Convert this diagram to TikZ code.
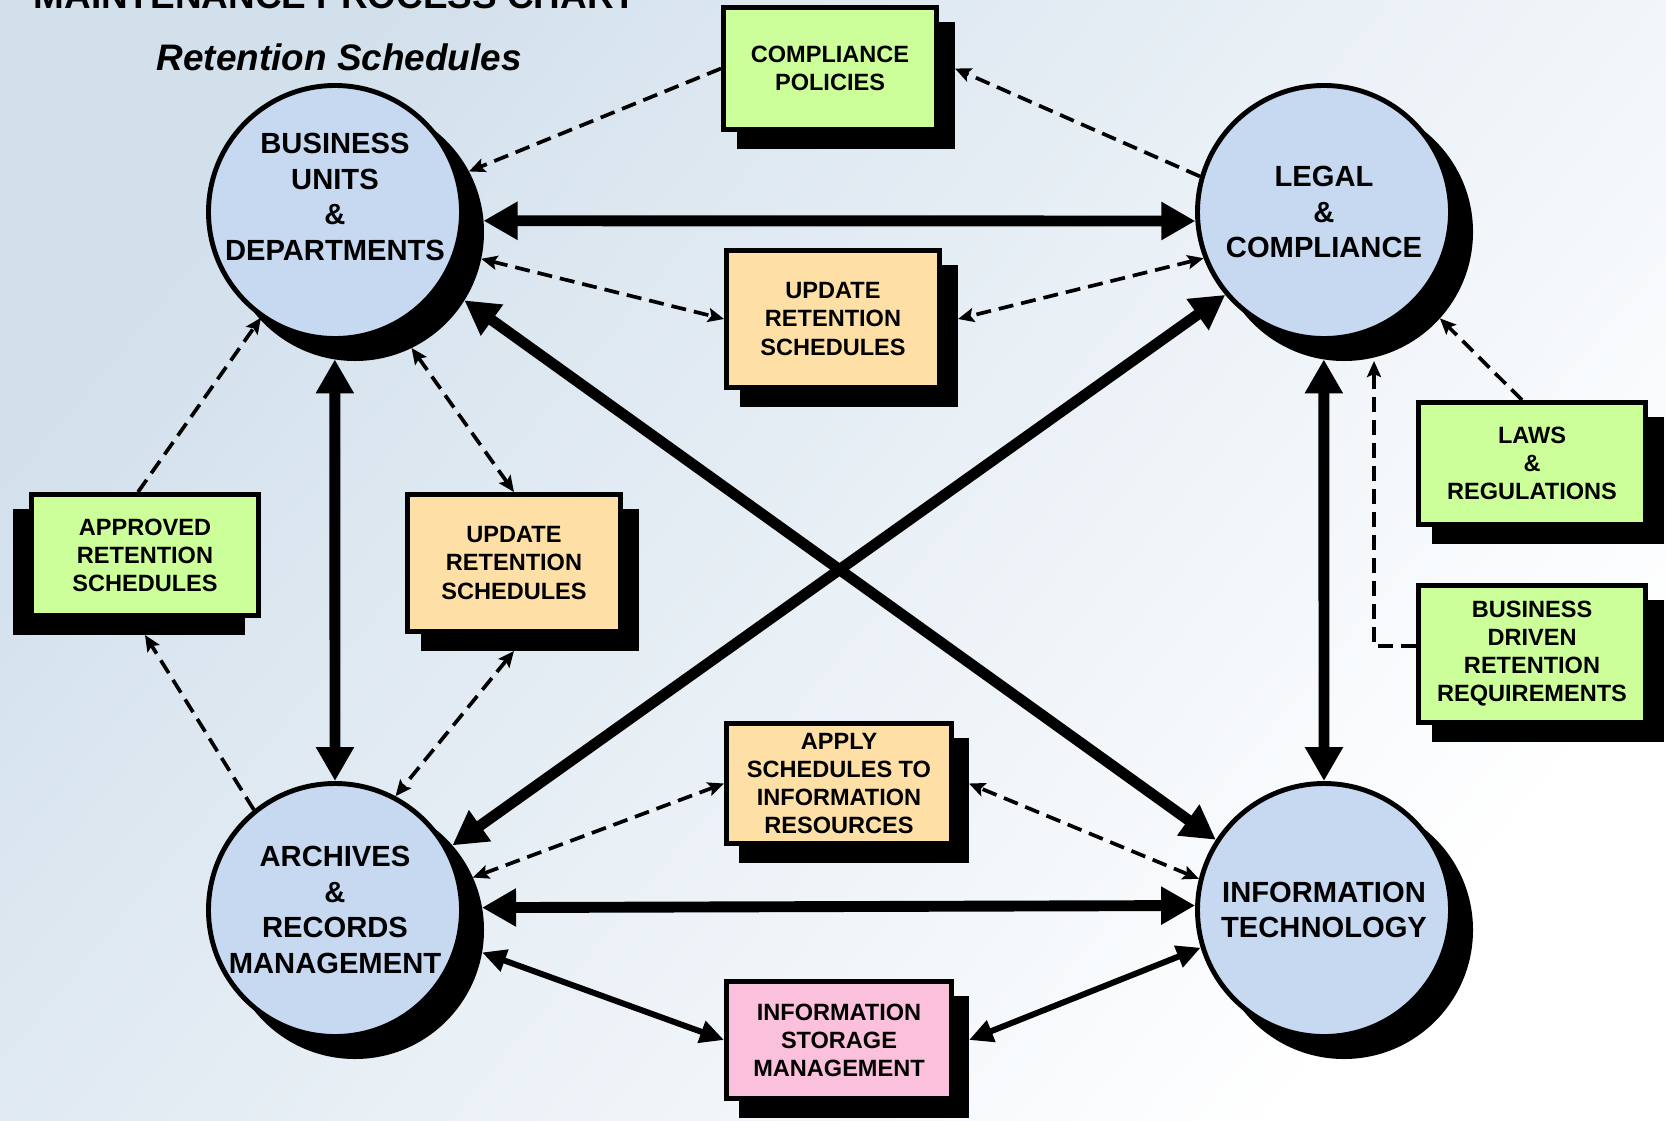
\documentclass[tikz,border=0pt]{standalone}
\usepackage{fontspec}
\setmainfont{Liberation Sans}
\usepackage{tikz}
\usetikzlibrary{arrows.meta,positioning,calc}
\definecolor{unitblue}{RGB}{198,217,241}
\definecolor{boxgreen}{RGB}{204,255,153}
\definecolor{boxpeach}{RGB}{254,223,166}
\definecolor{boxpink}{RGB}{250,192,220}
\definecolor{bgblue}{RGB}{210,224,236}
\newcommand{\unitfont}{\fontsize{8.3}{10.1}\selectfont\bfseries}
\newcommand{\boxfont}{\fontsize{6.7}{7.97}\selectfont\bfseries}

\begin{document}
\begin{tikzpicture}[
    unit/.style={circle, draw, line width=1.4pt, fill=unitblue, minimum size=2.53cm,
      inner sep=0pt, align=center, font=\unitfont},
    unittext/.style={align=center, font=\unitfont, inner sep=0pt},
    unitsh/.style={circle, fill=black, minimum size=2.58cm, inner sep=0pt, outer sep=0pt},
    box/.style={rectangle, draw, line width=1.4pt, inner sep=0pt, align=center, font=\boxfont},
    boxsh/.style={rectangle, fill=black, inner sep=0pt, outer sep=0pt},
    big/.style={line width=3.1pt, >={Triangle[length=0.34cm,width=0.36cm]}},
    mid/.style={line width=1.7pt, >={Triangle[length=0.24cm,width=0.22cm]}},
    dsh/.style={line width=1.05pt, dash pattern=on 0.15cm off 0.08cm,
      >={Stealth[length=0.16cm,width=0.14cm,inset=0.03cm]}}]
    \useasboundingbox (0,0) rectangle (16.66,-11.2);
    \shade[top color=bgblue, bottom color=white, shading angle=50] (0,0) rectangle (16.66,-11.2);

    \node[anchor=base west, inner sep=0pt, font=\fontsize{10.5}{12}\selectfont\bfseries] (title) at (0.33,-0.08) {MAINTENANCE PROCESS CHART};
    \node[anchor=base west, inner sep=0pt, font=\fontsize{10.5}{12}\selectfont\bfseries\itshape] (sub) at (1.56,-0.70) {Retention Schedules};

    % shadows
    \node[unitsh] (bu-sh) at (3.55, -2.32) {};
    \node[unitsh] (lc-sh) at (13.44, -2.32) {};
    \node[unitsh] (ar-sh) at (3.55, -9.30) {};
    \node[unitsh] (it-sh) at (13.44, -9.30) {};
    \node[boxsh, minimum width=2.18cm, minimum height=1.27cm] (cp-sh) at (8.46, -0.85) {};
    \node[boxsh, minimum width=2.18cm, minimum height=1.42cm] (upa-sh) at (8.49, -3.36) {};
    \node[boxsh, minimum width=2.18cm, minimum height=1.42cm] (upb-sh) at (5.30, -5.80) {};
    \node[boxsh, minimum width=2.32cm, minimum height=1.26cm] (ars-sh) at (1.29, -5.72) {};
    \node[boxsh, minimum width=2.32cm, minimum height=1.27cm] (law-sh) at (15.48, -4.80) {};
    \node[boxsh, minimum width=2.32cm, minimum height=1.42cm] (bdr-sh) at (15.48, -6.71) {};
    \node[boxsh, minimum width=2.30cm, minimum height=1.25cm] (app-sh) at (8.54, -8.005) {};
    \node[boxsh, minimum width=2.30cm, minimum height=1.22cm] (ism-sh) at (8.54, -10.57) {};

    % units
    \node[unit, label={[unittext, yshift=0.15cm]center:{BUSINESS\\UNITS\\\&\\DEPARTMENTS}}] (bu) at (3.35, -2.12) {};
    \node[unit] (lc) at (13.24, -2.12) {LEGAL\\\&\\COMPLIANCE};
    \node[unit] (ar) at (3.35, -9.10) {ARCHIVES\\\&\\RECORDS\\MANAGEMENT};
    \node[unit] (it) at (13.24, -9.10) {INFORMATION\\TECHNOLOGY};

    % boxes
    \node[box, fill=boxgreen, minimum width=2.13cm, minimum height=1.22cm] (cp) at (8.30, -0.685) {COMPLIANCE\\POLICIES};
    \node[box, fill=boxpeach, minimum width=2.13cm, minimum height=1.37cm] (upa) at (8.33, -3.19) {UPDATE\\RETENTION\\SCHEDULES};
    \node[box, fill=boxpeach, minimum width=2.13cm, minimum height=1.37cm] (upb) at (5.14, -5.63) {UPDATE\\RETENTION\\SCHEDULES};
    \node[box, fill=boxgreen, minimum width=2.27cm, minimum height=1.21cm] (ars) at (1.45, -5.55) {APPROVED\\RETENTION\\SCHEDULES};
    \node[box, fill=boxgreen, minimum width=2.27cm, minimum height=1.22cm] (law) at (15.32, -4.635) {LAWS\\\&\\REGULATIONS};
    \node[box, fill=boxgreen, minimum width=2.27cm, minimum height=1.37cm] (bdr) at (15.32, -6.54) {BUSINESS\\DRIVEN\\RETENTION\\REQUIREMENTS};
    \node[box, fill=boxpeach, minimum width=2.25cm, minimum height=1.20cm] (app) at (8.39, -7.835) {APPLY\\SCHEDULES TO\\INFORMATION\\RESOURCES};
    \node[box, fill=boxpink, minimum width=2.25cm, minimum height=1.17cm] (ism) at (8.39, -10.40) {INFORMATION\\STORAGE\\MANAGEMENT};

    % main flows
    \draw[big,<->] (bu-sh.5) -- (lc.184);
    \draw[big,<->] (bu-sh.261) -- (ar.north);
    \draw[big,<->] (lc-sh.261) -- (it.north);
    \draw[big,<->] (ar-sh.10) -- (it.178);
    \draw[big,<->] (bu-sh.-32) -- (it.147);
    \draw[big,<->] (ar-sh.41) -- (lc.220);
    \draw[mid,<->] (ar-sh.-10) -- (ism.west);
    \draw[mid,<->] (it.197) -- ([xshift=0.15cm]ism.east);

    % dashed flows
    \draw[dsh,->] (cp.west) -- (bu-sh.28);
    \draw[dsh,->] (lc.164) -- ([xshift=0.16cm]cp.east);
    \draw[dsh,<->] (bu-sh.-12) -- (upa.west);
    \draw[dsh,<->] (lc.201) -- ([xshift=0.16cm]upa.east);
    \draw[dsh,<->] (bu-sh.-64) -- (upb.north);
    \draw[dsh,<->] ([yshift=-0.17cm]upb.south) -- (ar.62);
    \draw[dsh,->] ([xshift=-0.07cm]ars.north) -- (bu.235);
    \draw[dsh,->] (ar.129) -- ([yshift=-0.17cm]ars.south);
    \draw[dsh,->] ([xshift=-0.1cm]law.north) -- (lc-sh.-42);
    \draw[dsh,->] ([yshift=0.08cm]bdr.west) -| ([xshift=0.30cm]lc-sh.south);
    \draw[dsh,<->] (ar-sh.24) -- (app.west);
    \draw[dsh,<->] (it.166) -- ([xshift=0.15cm]app.east);
\end{tikzpicture}
\end{document}
